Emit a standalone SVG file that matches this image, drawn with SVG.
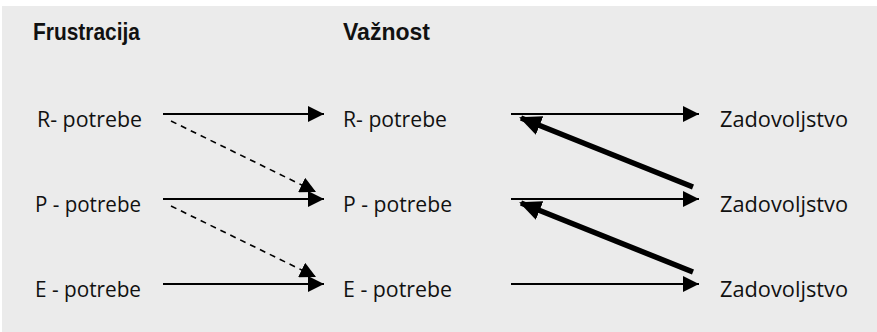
<svg xmlns="http://www.w3.org/2000/svg" width="877" height="332" viewBox="0 0 877 332">
  <style>
    .lbl { font-family: "Open Sans", "Liberation Sans", sans-serif; font-size: 21.5px; fill: #111; }
    .head { font-family: "Liberation Sans", "DejaVu Sans", sans-serif; font-size: 24px; font-weight: bold; fill: #111; }
    .thin { stroke: #000; stroke-width: 2; fill: none; }
    .dash { stroke: #000; stroke-width: 1.6; fill: none; stroke-dasharray: 6 5; }
    .thick { stroke: #000; stroke-width: 5.5; fill: none; }
  </style>
  <defs>
    <marker id="tip" markerUnits="userSpaceOnUse" viewBox="0 0 16 16" refX="16" refY="8" markerWidth="16" markerHeight="16" orient="auto">
      <path d="M0,0 L16,8 L0,16 Z" fill="#000"/>
    </marker>
    <marker id="tipBig" markerUnits="userSpaceOnUse" viewBox="0 0 22 20" refX="20" refY="10" markerWidth="22" markerHeight="20" orient="auto">
      <path d="M0,0 L22,10 L0,20 Z" fill="#000"/>
    </marker>
  </defs>

  <rect x="2" y="6" width="875" height="326" fill="#ebebeb"/>

  <!-- column headings -->
  <g id="heading-frustracija"><text class="head" x="33" y="40" textLength="107" lengthAdjust="spacingAndGlyphs">Frustracija</text></g>
  <g id="heading-vaznost"><text class="head" x="343" y="40" textLength="87" lengthAdjust="spacingAndGlyphs">Važnost</text></g>

  <!-- left column -->
  <g id="frust-r"><text class="lbl" x="37" y="127" textLength="105" lengthAdjust="spacingAndGlyphs">R- potrebe</text></g>
  <g id="frust-p"><text class="lbl" x="35" y="212" textLength="106" lengthAdjust="spacingAndGlyphs">P - potrebe</text></g>
  <g id="frust-e"><text class="lbl" x="35" y="297" textLength="106" lengthAdjust="spacingAndGlyphs">E - potrebe</text></g>

  <!-- middle column -->
  <g id="vaz-r"><text class="lbl" x="343" y="127" textLength="104" lengthAdjust="spacingAndGlyphs">R- potrebe</text></g>
  <g id="vaz-p"><text class="lbl" x="343" y="212" textLength="109" lengthAdjust="spacingAndGlyphs">P - potrebe</text></g>
  <g id="vaz-e"><text class="lbl" x="343" y="297" textLength="109" lengthAdjust="spacingAndGlyphs">E - potrebe</text></g>

  <!-- right column -->
  <g id="zad-1"><text class="lbl" x="720" y="127" textLength="128" lengthAdjust="spacingAndGlyphs">Zadovoljstvo</text></g>
  <g id="zad-2"><text class="lbl" x="720" y="212" textLength="128" lengthAdjust="spacingAndGlyphs">Zadovoljstvo</text></g>
  <g id="zad-3"><text class="lbl" x="720" y="297" textLength="128" lengthAdjust="spacingAndGlyphs">Zadovoljstvo</text></g>

  <!-- connectors -->
  <g id="connectors">
    <line class="thin" x1="163" y1="114" x2="324" y2="114" marker-end="url(#tip)"/>
    <line class="thin" x1="163" y1="199" x2="324" y2="199" marker-end="url(#tip)"/>
    <line class="thin" x1="163" y1="284" x2="324" y2="284" marker-end="url(#tip)"/>

    <line class="dash" x1="171" y1="121" x2="316" y2="192" marker-end="url(#tip)"/>
    <line class="dash" x1="171" y1="206" x2="316" y2="277" marker-end="url(#tip)"/>

    <line class="thin" x1="511" y1="114" x2="699" y2="114" marker-end="url(#tip)"/>
    <line class="thin" x1="511" y1="199" x2="699" y2="199" marker-end="url(#tip)"/>
    <line class="thin" x1="511" y1="284" x2="699" y2="284" marker-end="url(#tip)"/>

    <line class="thick" x1="693" y1="187" x2="521" y2="118" marker-end="url(#tipBig)"/>
    <line class="thick" x1="693" y1="272" x2="521" y2="203" marker-end="url(#tipBig)"/>
  </g>
</svg>
